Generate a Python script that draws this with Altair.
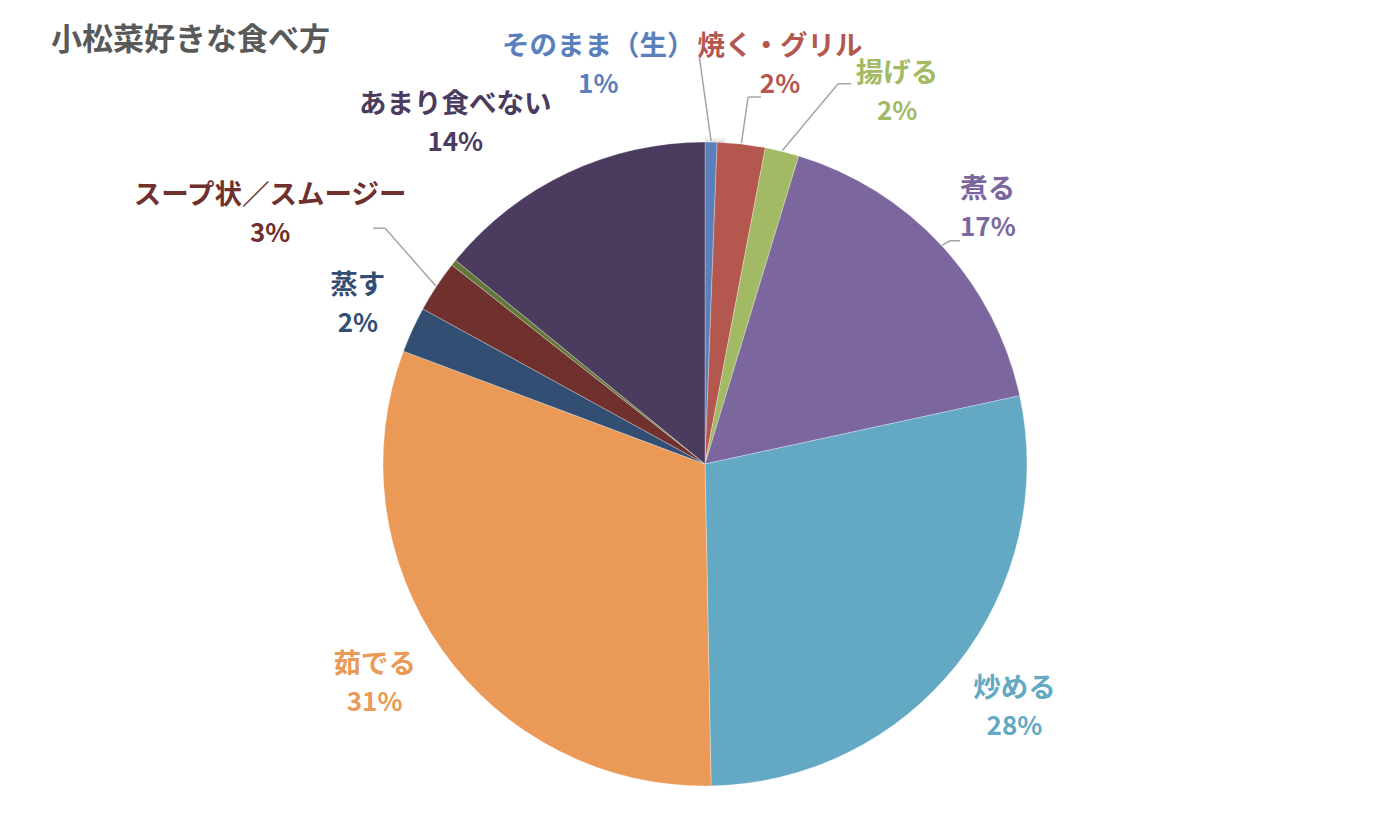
import altair as alt
import pandas as pd

# ---- data ----
title_text = "小松菜好きな食べ方"
categories = ["そのまま（生）", "焼く・グリル", "揚げる", "煮る", "炒める",
              "茹でる", "蒸す", "スープ状／スムージー", "その他", "あまり食べない"]
values = [0.6, 2.4, 1.7, 16.9, 28.1, 31.0, 2.3, 2.6, 0.3, 14.1]
colors = ["#5A80BC", "#B3574F", "#A2BA64", "#7B679E", "#63A9C3",
          "#EA9956", "#324E72", "#6F302E", "#637838", "#4B3C5F"]
show_label = [1, 1, 1, 1, 1, 1, 1, 1, 0, 1]

# ---- layout (label placement, not data) ----
label_r = [412, 405, 418, 381, 394, 397, 382, 501, 0, 422]
label_dtheta = [-16.1, 4.2, 13.5, 0.6, -0.1, 1.6, 0.0, -3.7, 0.0, -10.9]
has_lead = [1, 1, 1, 1, 0, 0, 0, 1, 0, 0]
lead_elbow_dx = [101, -32, -59, -38, 0, 0, 0, 115, 0, 0]
lead_elbow_dy = [-10, 31, -9, 32, 0, 0, 0, 13, 0, 0]
lead_end_dx = [101, -19, -46, -28, 0, 0, 0, 103, 0, 0]

CX, CY, R = 697, 456, 322
FONT = "Noto Sans CJK JP"

df = pd.DataFrame({
    "idx": list(range(len(categories))),
    "category": categories,
    "value": values,
    "show": show_label,
    "lr": label_r,
    "ldt": label_dtheta,
    "lead": has_lead,
    "ex": lead_elbow_dx,
    "ey": lead_elbow_dy,
    "tx": lead_end_dx,
})

color_scale = alt.Scale(domain=categories, range=colors)

base = alt.Chart(df)

# soft shadow glow around pie
glow_df = pd.DataFrame({"v": [1]})
glows = [
    alt.Chart(glow_df).mark_arc(radius=rr, color="#000000", opacity=op).encode(
        theta=alt.Theta("v:Q"), x=alt.value(CX), y=alt.value(CY + 1))
    for rr, op in [(329, 0.025), (327, 0.035), (325, 0.05)]
]

pie = base.mark_arc(radius=R, stroke="#ffffff", strokeWidth=0.3).encode(
    theta=alt.Theta("value:Q", stack=True),
    order=alt.Order("idx:Q"),
    color=alt.Color("category:N", scale=color_scale, legend=None),
    x=alt.value(CX), y=alt.value(CY),
)

calc = base.transform_joinaggregate(
    total="sum(value)"
).transform_window(
    cum="sum(value)", sort=[alt.SortField("idx")], frame=[None, 0]
).transform_calculate(
    mid="(datum.cum - datum.value/2) / datum.total * 2 * PI",
    pct="format(datum.value / datum.total, '.0%')",
).transform_calculate(
    lang="datum.mid + datum.ldt * PI / 180",
).transform_calculate(
    lx=f"{CX} + datum.lr * sin(datum.lang)",
    ly=f"{CY} - datum.lr * cos(datum.lang)",
    ax=f"{CX} + {R + 1} * sin(datum.mid)",
    ay=f"{CY} - {R + 1} * cos(datum.mid)",
)

labels = calc.transform_filter("datum.show == 1")

name_text = labels.mark_text(
    font=FONT, fontSize=27.5, fontWeight="bold", dy=-19, baseline="middle", align="center"
).encode(
    x=alt.X("lx:Q", scale=None), y=alt.Y("ly:Q", scale=None),
    text="category:N",
    color=alt.Color("category:N", scale=color_scale, legend=None),
)
pct_text = labels.mark_text(
    font=FONT, fontSize=26, fontWeight="bold", dy=19, baseline="middle", align="center"
).encode(
    x=alt.X("lx:Q", scale=None), y=alt.Y("ly:Q", scale=None),
    text="pct:N",
    color=alt.Color("category:N", scale=color_scale, legend=None),
)

leads = calc.transform_filter("datum.lead == 1").transform_calculate(
    elx=f"{CX} + datum.lr * sin(datum.lang) + datum.ex",
    ely=f"{CY} - datum.lr * cos(datum.lang) + datum.ey",
    enx=f"{CX} + datum.lr * sin(datum.lang) + datum.tx",
)
lead1 = leads.mark_rule(color="#A5A5A5", strokeWidth=1.5).encode(
    x=alt.X("ax:Q", scale=None), y=alt.Y("ay:Q", scale=None),
    x2="elx:Q", y2="ely:Q",
)
lead2 = leads.mark_rule(color="#A5A5A5", strokeWidth=1.5).encode(
    x=alt.X("elx:Q", scale=None), y=alt.Y("ely:Q", scale=None),
    x2="enx:Q", y2="ely:Q",
)

title = alt.Chart(pd.DataFrame({"t": [title_text]})).mark_text(
    font=FONT, fontSize=31, fontWeight="bold", color="#595959",
    align="left", baseline="middle",
).encode(text="t:N", x=alt.value(43), y=alt.value(33))

chart = alt.layer(*glows, pie, lead1, lead2, name_text, pct_text, title).properties(
    width=1384, height=824,
    padding=0,
    background="#ffffff",
    autosize=alt.AutoSizeParams(type="none"),
).configure_view(strokeWidth=0, stroke="transparent")

chart.save("out.html", embed_options={"renderer": "svg", "actions": False})
